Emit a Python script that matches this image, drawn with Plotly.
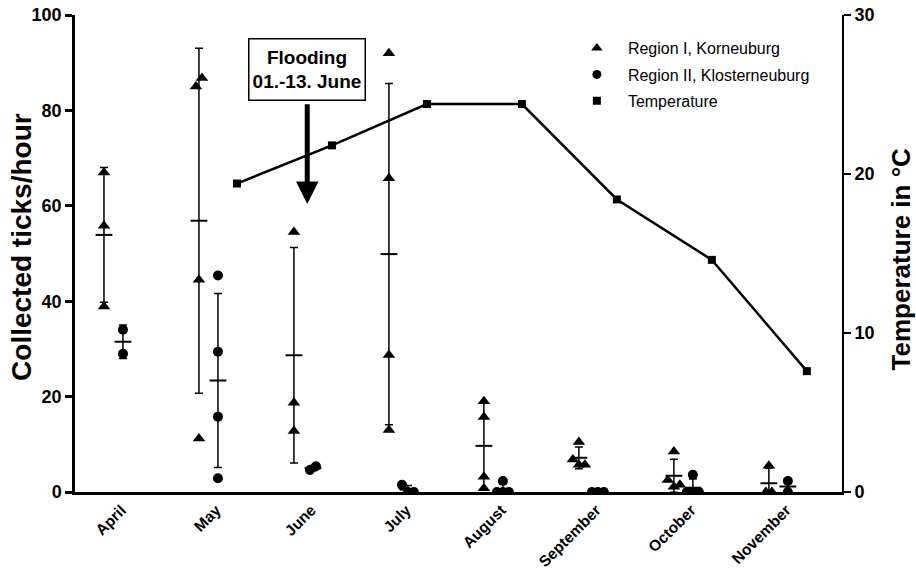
import plotly.graph_objects as go
import numpy as np

months = ["April", "May", "June", "July", "August", "September", "October", "November"]

# Collected ticks/hour, replicate samplings per month
korneuburg = [
    [67.0, 55.8, 38.9],
    [85.0, 86.8, 44.5, 11.2],
    [54.5, 18.7, 12.8],
    [92.0, 65.8, 28.7, 13.0],
    [19.0, 15.7, 3.2, 0.8],
    [10.5, 6.8, 5.7, 5.7],
    [8.5, 2.5, 1.1, 1.5],
    [5.5, 0.0, 0.0],
]
klosterneuburg = [
    [34.0, 29.0],
    [45.4, 29.4, 15.8, 2.9],
    [4.6, 5.4],
    [1.5, 0.0, 0.0],
    [2.3, 0.0, 0.0, 0.0],
    [0.0, 0.0, 0.0],
    [3.6, 0.0, 0.0, 0.0],
    [2.3, 0.0],
]
temp_months = ["May", "June", "July", "August", "September", "October", "November"]
temperature = [19.4, 21.8, 24.4, 24.4, 18.4, 14.6, 7.6]

FONT = "Liberation Sans, Arial, sans-serif"
OFF_K, OFF_C, OFF_T = -0.1, 0.1, 0.3
STEP = 0.063
THRESH = 2.0


def jitter(vals):
    """Spread overlapping points horizontally (scatter dot plot style)."""
    n = len(vals)
    order = sorted(range(n), key=lambda i: vals[i])
    clusters, cur = [], [order[0]]
    for i in order[1:]:
        if vals[i] - vals[cur[-1]] < THRESH:
            cur.append(i)
        else:
            clusters.append(cur)
            cur = [i]
    clusters.append(cur)
    offs = [0.0] * n
    for c in clusters:
        c = sorted(c)
        m = len(c)
        for k, i in enumerate(c):
            offs[i] = (k - (m - 1) / 2) * STEP
    return offs


def group_traces(data, center_off, symbol, msize):
    xs, ys, mx, my, sd = [], [], [], [], []
    for mi, vals in enumerate(data):
        offs = jitter(vals)
        for v, o in zip(vals, offs):
            xs.append(mi + center_off + o)
            ys.append(v)
        mx.append(mi + center_off)
        my.append(float(np.mean(vals)))
        sd.append(float(np.std(vals, ddof=1)))
    err = go.Scatter(
        x=mx, y=my, mode="markers",
        marker=dict(symbol="line-ew", size=12, line=dict(width=2, color="black")),
        error_y=dict(type="data", array=sd, visible=True, thickness=1.5, width=4, color="black"),
        showlegend=False, hoverinfo="skip",
    )
    pts = go.Scatter(
        x=xs, y=ys, mode="markers",
        marker=dict(symbol=symbol, size=msize, color="black"),
        showlegend=False,
    )
    return [err, pts]


fig = go.Figure()
for t in group_traces(korneuburg, OFF_K, "triangle-up", 11):
    fig.add_trace(t)
for t in group_traces(klosterneuburg, OFF_C, "circle", 10):
    fig.add_trace(t)

tx = [months.index(m) + OFF_T for m in temp_months]
fig.add_trace(go.Scatter(
    x=tx, y=temperature, mode="lines+markers", yaxis="y2",
    line=dict(color="black", width=2.5),
    marker=dict(symbol="square", size=8, color="black"),
    showlegend=False,
))

# legend entries (markers only)
for name, sym, grp, sz in [("Region I, Korneuburg", "triangle-up", "a", 10),
                           ("Region II, Klosterneuburg", "circle", "b", 9),
                           ("Temperature", "square", "c", 8)]:
    fig.add_trace(go.Scatter(x=[None], y=[None], mode="markers", name=name,
                             legendgroup=grp,
                             marker=dict(symbol=sym, size=sz, color="black")))

fig.update_layout(
    width=916, height=569,
    margin=dict(l=75, r=74, t=15, b=77),
    paper_bgcolor="white", plot_bgcolor="white",
    font=dict(family=FONT, color="black"),
    xaxis=dict(
        range=[-0.405, 7.67], tickvals=list(range(len(months))), ticktext=months,
        tickangle=-45, showline=True, linewidth=3, linecolor="black",
        ticks="", showgrid=False, zeroline=False, automargin=False,
        ticklabelshift=8,
        tickfont=dict(family=FONT, size=15.5, weight="bold"),
    ),
    yaxis=dict(
        range=[0, 100], tickvals=[0, 20, 40, 60, 80, 100],
        ticks="outside", ticklen=7, tickwidth=2.5, tickcolor="black",
        showline=True, linewidth=2.5, linecolor="black",
        showgrid=False, zeroline=False, automargin=False,
        tickfont=dict(family=FONT, size=18, weight="bold"),
    ),
    yaxis2=dict(
        range=[0, 30], tickvals=[0, 10, 20, 30], overlaying="y", side="right",
        ticks="outside", ticklen=7, tickwidth=2, tickcolor="black",
        showline=True, linewidth=2, linecolor="black",
        showgrid=False, zeroline=False, automargin=False,
        tickfont=dict(family=FONT, size=18, weight="bold"),
    ),
    legend=dict(
        x=0.640, y=0.966, xanchor="left", yanchor="top",
        font=dict(family=FONT, size=16), itemwidth=52,
        tracegroupgap=2.5, traceorder="grouped", bgcolor="rgba(0,0,0,0)",
    ),
    showlegend=True,
)

# axis titles
fig.add_annotation(
    x=-0.0705, y=0.5136, xref="paper", yref="paper", xanchor="center", yanchor="middle",
    text="<b>Collected ticks/hour</b>", textangle=-90, showarrow=False,
    font=dict(family=FONT, size=28, color="black"),
)
fig.add_annotation(
    x=1.0775, y=0.4885, xref="paper", yref="paper", xanchor="center", yanchor="middle",
    text="<b>Temperature in °C</b>", textangle=-90, showarrow=False,
    font=dict(family=FONT, size=26, color="black"),
)

fig.add_annotation(
    x=2.04, y=88.5, xref="x", yref="y",
    text="<b>Flooding</b><br><b>01.-13. June</b>", showarrow=False,
    font=dict(family=FONT, size=19, color="black"),
    bordercolor="black", borderwidth=1.5, borderpad=1, bgcolor="white",
    width=113, height=58,
)
fig.add_annotation(
    x=2.04, y=60.4, xref="x", yref="y",
    ax=2.04, ay=81.6, axref="x", ayref="y",
    text="", showarrow=True, arrowhead=2, arrowwidth=5, arrowsize=0.9,
    arrowcolor="black",
)

fig.write_html(
    "out.html",
    config={"displayModeBar": False},
    post_script="document.body.style.margin='0px';document.body.style.overflow='hidden';",
)
